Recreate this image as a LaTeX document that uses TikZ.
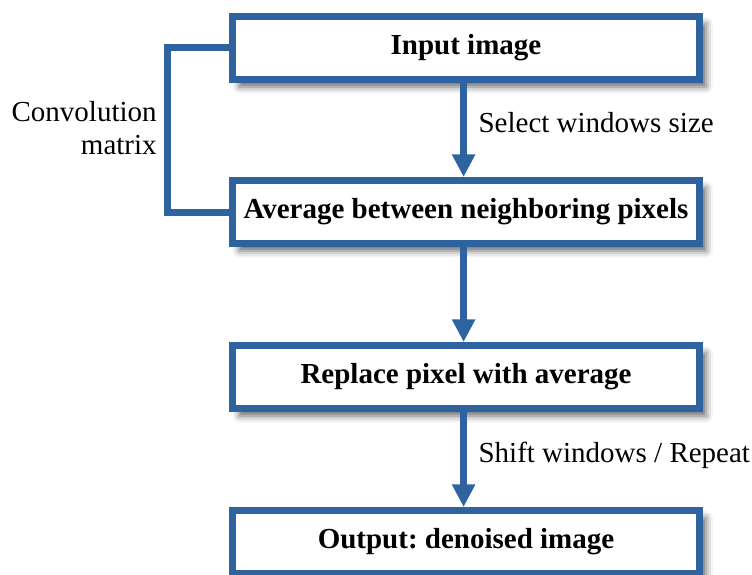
\documentclass[tikz,border=0pt]{standalone}
\usepackage{fontspec}
\setmainfont{Liberation Serif}
\frenchspacing
\usetikzlibrary{arrows.meta,positioning,shadows.blur}
\definecolor{flowblue}{HTML}{2F63A0}

\begin{document}
\begin{tikzpicture}[x=0.75pt, y=0.75pt,
  stepbox/.style={rectangle, draw=flowblue, line width=5.25pt, fill=white,
                  minimum width=350.25pt, minimum height=47.25pt,
                  font=\fontsize{21.75}{26}\selectfont\bfseries,
                  blur shadow={shadow xshift=5pt, shadow yshift=-5.5pt,
                               shadow blur radius=5pt, shadow opacity=60}},
  flow/.style={draw=flowblue, line width=5.25pt,
               -{Triangle[width=16.5pt, length=17pt]}},
  link/.style={draw=flowblue, line width=5.25pt},
  note/.style={font=\fontsize{21.75}{24.75}\selectfont, text=black, inner sep=0pt},
]
  \useasboundingbox (0,0) rectangle (752,-574);

  % ===== Steps =====
  \node[stepbox] (inimg) at (466,-48) {Input image};
  \node[stepbox] (avg) at (466,-212) {Average between neighboring pixels};
  \node[stepbox] (repl) at (466,-377) {Replace pixel with average};
  \node[stepbox] (out) at (466,-542) {Output: denoised image};

  % ===== Flow arrows =====
  \draw[flow] ([xshift=-1.8pt]inimg.south) -- ([xshift=-1.8pt]avg.north)
        node[note, midway, anchor=base west, xshift=8.6pt, yshift=-2pt] {Select windows size};
  \draw[flow] ([xshift=-1.8pt]avg.south) -- ([xshift=-1.8pt]repl.north);
  \draw[flow] ([xshift=-1.8pt]repl.south) -- ([xshift=-1.8pt]out.north)
        node[note, midway, anchor=base west, xshift=8.6pt, yshift=-2pt] {Shift windows / Repeat};

  % Kernel bracket on the left
  \draw[link] (inimg.west) -- ++(-61.5,0) |- (avg.west)
        node[note, pos=0.25, left=5.5pt, align=right, yshift=1.5pt] {Convolution\\matrix};

\end{tikzpicture}
\end{document}
